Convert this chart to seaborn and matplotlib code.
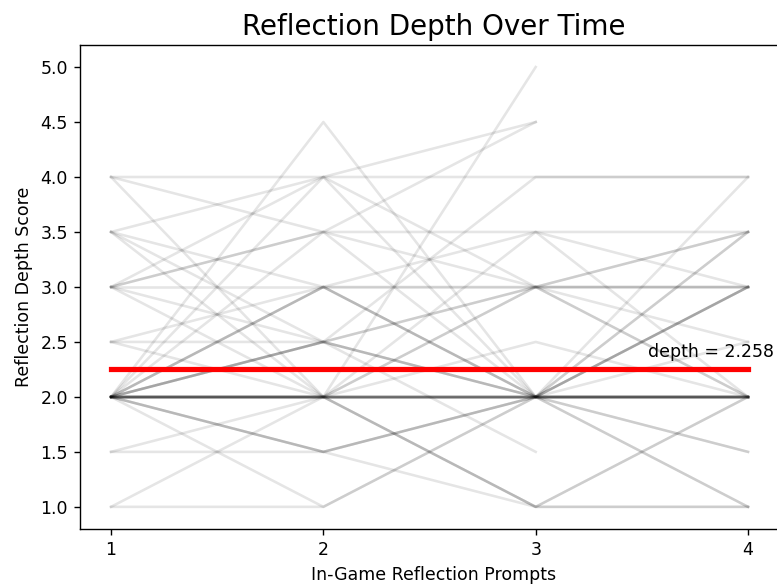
import numpy as np
import pandas as pd
import matplotlib
matplotlib.use("Agg")
import matplotlib.pyplot as plt
import seaborn as sns

# prompts on the x axis
prompts = [1, 2, 3, 4]

# reflection depth score per participant at prompts 1..4 (nan = no answer)
nan = np.nan
scores = [
    [2, 2, 2, 2],
    [2, 2, 2, 2],
    [2, 2, 2, 2],
    [2, 2, 2, 3.5],
    [2, 2, 2, 3],
    [2, 2, 1, 1],
    [2, 2, 1, 2],
    [2, 2, 3, 3.5],
    [2, 3, 3, 3],
    [2, 3, 2, 2],
    [2, 3, 2, 3.5],
    [2, 2.5, 3, 3.5],
    [2, 2.5, 2, 2],
    [2, 2.5, 2, 1.5],
    [2, 1.5, 2, 2],
    [2, 1.5, 1, 2],
    [2, 1.5, 2, 3],
    [2, 4, 2, 2],
    [2, 4.5, 2, 1],
    [2, 3.5, 3, 2.5],
    [2, 1, 2, 4],
    [4, 3.5, 3.5, 3],
    [4, 2, 5, nan],
    [3.5, 4, 4, 4],
    [3.5, 2, 2, 2],
    [3.5, 3, 2, 2.5],
    [3, 3, 3, 3],
    [3, 2, 2, 1],
    [3, 3.5, 4.5, nan],
    [3, 4, 4.5, nan],
    [2.5, 2.5, 2, 2],
    [2.5, 2, 3, 2],
    [2.5, 3, 3.5, 3.5],
    [3, 2.5, 1.5, nan],
    [1.5, 2, 2, 2],
    [1.5, 1.5, 2, 3],
    [1, 1, 2, 3],
    [1, 2, 1, 1],
    [2, 2, 3.5, 2],
    [2, 2.5, 4, 4],
    [3, 3.5, 2, 1.5],
    [2, 2, 2.5, 2],
    [3.5, 2.5, 3, 3],
    [4, 4, 3, 2],
]

mean_depth = 2.258

# formato largo: una fila por participante y prompt
rows = []
for pid, s in enumerate(scores):
    for p, v in zip(prompts, s):
        if not np.isnan(v):
            rows.append({"participant": pid, "prompt": p, "depth": v})
df = pd.DataFrame(rows)

dpi = 125
fig = plt.figure(figsize=(777 / dpi, 585 / dpi), dpi=dpi)
ax = fig.add_axes([0.103, 0.096, 0.91, 0.827])

sns.lineplot(data=df, x="prompt", y="depth", units="participant", estimator=None,
             color="black", alpha=0.1, linewidth=1.5, ax=ax)

ax.plot([prompts[0], prompts[-1]], [mean_depth, mean_depth], color="red", linewidth=3)
ax.text(3.53, 2.36, f"depth = {mean_depth}")

yticks = np.arange(1.0, 5.01, 0.5)
ax.set_xticks(prompts)
ax.set_yticks(yticks)
ax.set_yticklabels([f"{v:.1f}" for v in yticks])
ax.set_xlim(0.854, 4.184)
ax.set_ylim(0.8, 5.2)
ax.spines["right"].set_visible(False)  # en la original queda fuera del recorte
ax.set_title("Reflection Depth Over Time", fontsize=16)
ax.set_xlabel("In-Game Reflection Prompts")
ax.set_ylabel("Reflection Depth Score")

fig.savefig("out.png", dpi=dpi)
